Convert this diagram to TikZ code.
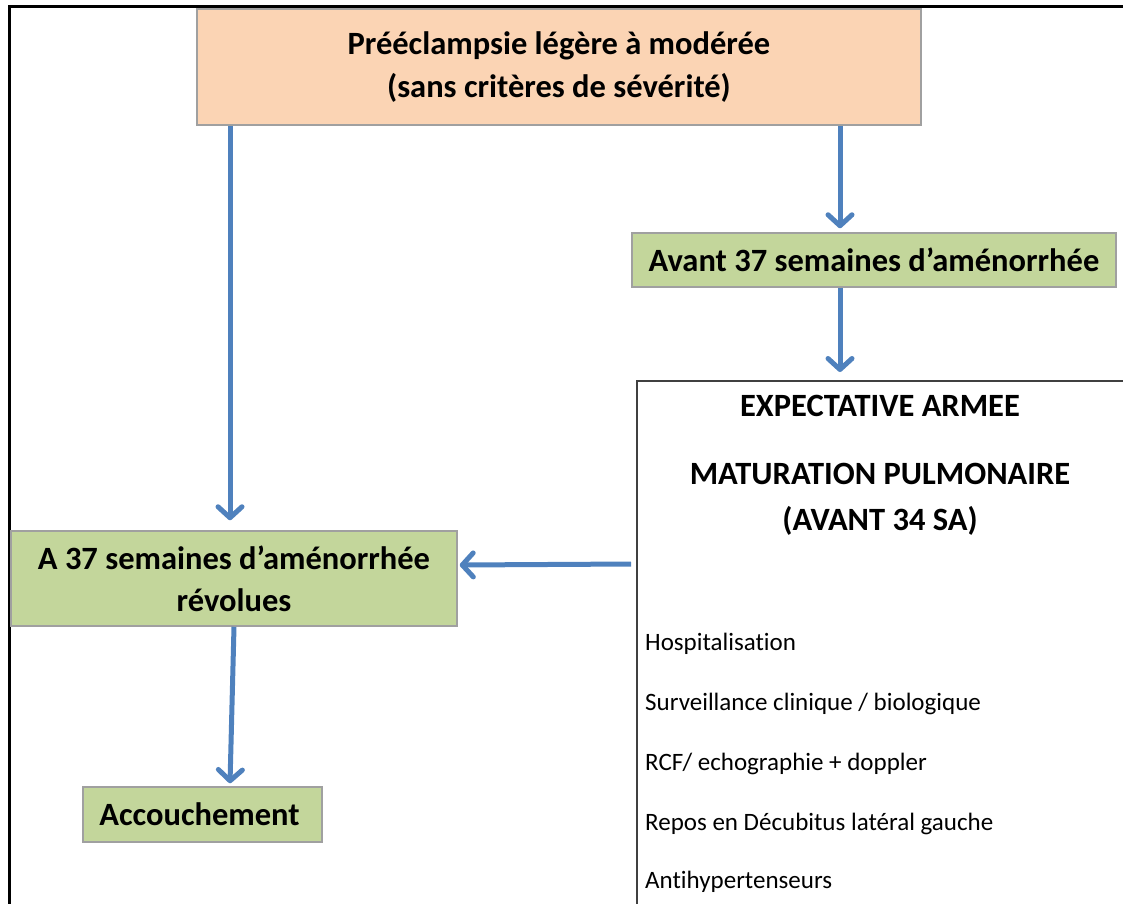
\documentclass[tikz,border=0pt]{standalone}
\usepackage{fontspec}
\setmainfont{Carlito}[Ligatures=NoCommon]
\usetikzlibrary{arrows.meta}
\definecolor{peach}{HTML}{FBD4B4}
\definecolor{sage}{HTML}{C3D69B}
\definecolor{arrblue}{HTML}{4F81BD}
\definecolor{boxgray}{HTML}{A0A0A0}
\definecolor{darkbord}{HTML}{404040}
\tikzset{
  peachbox/.style={draw=boxgray, line width=1.5pt, fill=peach, align=center, inner sep=0pt,
    font=\bfseries\fontsize{32.5}{43}\selectfont},
  greenbox/.style={draw=boxgray, line width=1.5pt, fill=sage, align=center, inner sep=0pt,
    font=\bfseries\fontsize{32.5}{42}\selectfont},
  expbox/.style={draw=darkbord, line width=2pt, fill=white, inner sep=0pt},
  bigcaps/.style={font=\bfseries\fontsize{32.5}{38}\selectfont, inner sep=0pt},
  listitem/.style={font=\fontsize{25}{30}\selectfont, anchor=west, inner sep=0pt},
  arr/.style={draw=arrblue, line width=5pt,
    -{Straight Barb[length=11pt,width=24pt,line cap=round,line join=round]}},
  frameline/.style={line width=3pt, black}
}
\begin{document}
\begin{tikzpicture}[x=1pt,y=-1pt]
\useasboundingbox (0,0) rectangle (1123,903);
\clip (0,0) rectangle (1123,903);
% frame
\coordinate (fTL) at (9,6);
\coordinate (fTR) at (1130,6);
\coordinate (fBL) at (9,910);
\draw[frameline] (fTR) -- (fTL) -- (fBL);
% boxes
\node[peachbox, minimum width=724pt, minimum height=116pt] (top) at (559,67)
  {Prééclampsie légère à modérée\\(sans critères de sévérité)};
\node[greenbox, minimum width=484pt, minimum height=54pt] (avant) at (874,260)
  {Avant 37 semaines d’aménorrhée};
\node[expbox, minimum width=520pt, minimum height=560pt] (exp) at (897,661) {};
\node[greenbox, minimum width=446pt, minimum height=95pt] (a37) at (234,578.5)
  {A 37 semaines d’aménorrhée\\révolues};
\node[greenbox, minimum width=239pt, minimum height=55pt] (acc) at (202.5,814.5)
  {Accouchement\hspace*{6pt}};
% expectative contents
\node[bigcaps] (t1) at (880,406) {EXPECTATIVE ARMEE};
\node[bigcaps] (t2) at (880,474) {MATURATION PULMONAIRE};
\node[bigcaps] (t3) at (880,521) {(AVANT 34 SA)};
\node[listitem] (l1) at (645,644) {Hospitalisation};
\node[listitem] (l2) at (645,704) {Surveillance clinique / biologique};
\node[listitem] (l3) at (645,764) {RCF/ echographie + doppler};
\node[listitem] (l4) at (645,824) {Repos en Décubitus latéral gauche};
\node[listitem] (l5) at (645,882) {Antihypertenseurs};
% arrows
\draw[arr] ([xshift=-329pt]top.south) -- ([xshift=-4pt,yshift=10pt]a37.north);
\draw[arr] ([xshift=281pt]top.south) -- ([xshift=-34pt,yshift=4pt]avant.north);
\draw[arr] ([xshift=-34pt]avant.south) -- ([xshift=-57pt,yshift=8pt]exp.north);
\draw[arr] ([xshift=-5pt]exp.west |- 0,564) -- ([xshift=2pt]a37.east |- 0,565);
\draw[arr] (a37.south) -- ([xshift=27.5pt,yshift=3pt]acc.north);
\end{tikzpicture}
\end{document}
